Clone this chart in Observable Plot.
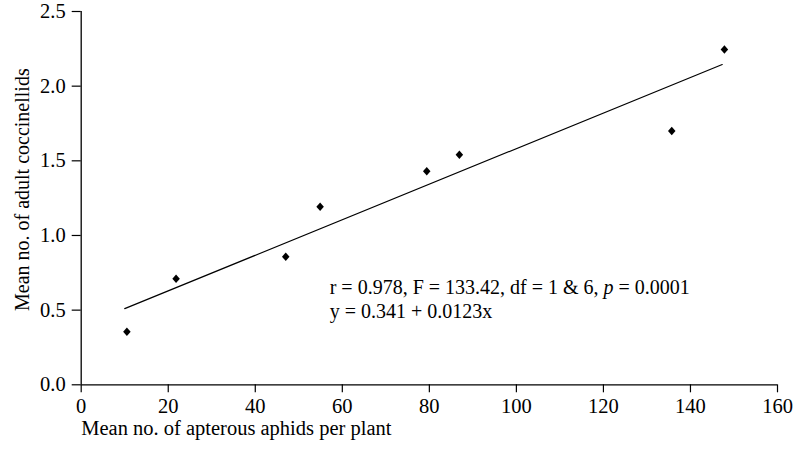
<!DOCTYPE html>
<html>
<head>
<meta charset="utf-8">
<script src="https://cdn.jsdelivr.net/npm/d3@7"></script>
<script src="https://cdn.jsdelivr.net/npm/@observablehq/plot@0.6"></script>
<style>
  html, body { margin: 0; padding: 0; background: #fff; }
</style>
</head>
<body>
<div id="chart"></div>
<script>
const aphids = [10.5, 21.8, 47.0, 54.9, 79.4, 86.9, 135.7, 147.8];
const coccinellids = [0.355, 0.71, 0.858, 1.193, 1.43, 1.54, 1.70, 2.245];
const fitX = [10.0, 147.3];
const fitY = [0.51, 2.145];
const xTicks = [0, 20, 40, 60, 80, 100, 120, 140, 160];
const yTicks = [0, 0.5, 1.0, 1.5, 2.0, 2.5];
const xLabel = "Mean no. of apterous aphids per plant";
const yLabel = "Mean no. of adult coccinellids";
const statLines = ["r = 0.978, F = 133.42, df = 1 & 6, p = 0.0001", "y = 0.341 + 0.0123x"];
const statX = [57.1, 57.1];
const statY = [0.652, 0.491];

const points = aphids.map((x, i) => ({x, y: coccinellids[i]}));
const fit = fitX.map((x, i) => ({x, y: fitY[i]}));
const stats = statLines.map((t, i) => ({t, x: statX[i], y: statY[i]}));

// slightly tall filled diamond
const tallDiamond = {
  draw(ctx, size) {
    const s = Math.sqrt(size);
    const hw = 0.53 * s, hh = 0.6 * s;
    ctx.moveTo(0, -hh); ctx.lineTo(hw, 0); ctx.lineTo(0, hh); ctx.lineTo(-hw, 0); ctx.closePath();
  }
};

const chart = Plot.plot({
  width: 797,
  height: 457,
  marginLeft: 80.7,
  marginRight: 20,
  marginTop: 11,
  marginBottom: 72.7,
  x: {domain: [0, 160]},
  y: {domain: [0, 2.5]},
  style: {fontFamily: "'Liberation Serif', 'DejaVu Serif', serif", fontSize: "20.5px", color: "#000", background: "#fff"},
  marks: [
    Plot.axisX({ticks: xTicks, tickFormat: d => String(d), tickSize: 8, tickPadding: 6, label: null, fontSize: 20.5}),
    Plot.axisY({ticks: yTicks, tickFormat: d => d.toFixed(1), tickSize: 9, tickPadding: 6.5, label: null, fontSize: 20.5}),
    Plot.ruleX([0], {stroke: "#000", strokeWidth: 1.3}),
    Plot.ruleY([0], {stroke: "#000", strokeWidth: 1.3}),
    Plot.line(fit, {x: "x", y: "y", stroke: "#000", strokeWidth: 1.2}),
    Plot.dot(points, {x: "x", y: "y", symbol: tallDiamond, fill: "#000", stroke: "none", r: 4}),
    Plot.text(stats, {x: "x", y: "y", text: "t", textAnchor: "start", fontSize: 20, fill: "#000"}),
    Plot.text([xLabel], {frameAnchor: "bottom-left", dy: 50, textAnchor: "start", fontSize: 20.5, fill: "#000"}),
    Plot.text([yLabel], {frameAnchor: "left", dx: -58.7, dy: -8.5, rotate: -90, textAnchor: "middle", fontSize: 20, fill: "#000"})
  ]
});

// italicize the "p" in the statistics line
chart.querySelectorAll("text").forEach(el => {
  if (el.textContent === statLines[0]) {
    const s = statLines[0];
    const idx = s.indexOf(", p = ") + 2;
    el.textContent = "";
    const ns = "http://www.w3.org/2000/svg";
    const a = document.createElementNS(ns, "tspan"); a.textContent = s.slice(0, idx);
    const b = document.createElementNS(ns, "tspan"); b.textContent = "p"; b.setAttribute("font-style", "italic");
    const c = document.createElementNS(ns, "tspan"); c.textContent = s.slice(idx + 1);
    el.append(a, b, c);
  }
});
chart.querySelectorAll("[aria-label='x-axis tick'] path, [aria-label='y-axis tick'] path").forEach(p => p.setAttribute("stroke-width", "1.2"));

document.getElementById("chart").appendChild(chart);
</script>
</body>
</html>
